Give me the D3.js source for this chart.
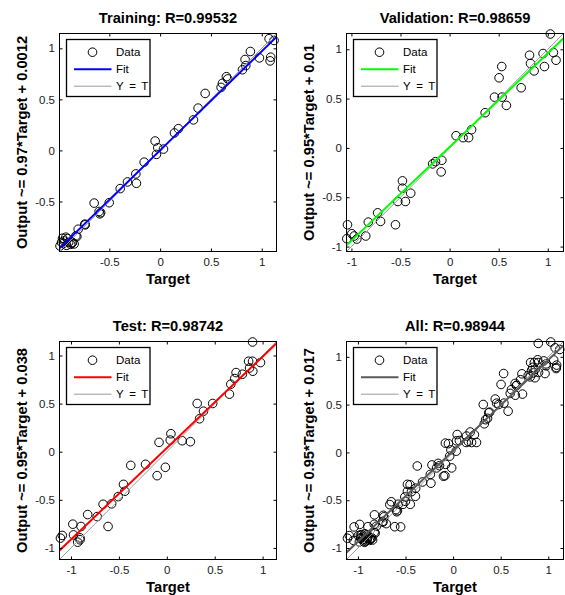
<!DOCTYPE html>
<html><head><meta charset="utf-8">
<script src="https://cdn.jsdelivr.net/npm/d3@7/dist/d3.min.js"></script>
<style>
html,body{margin:0;padding:0;background:#fff;}
svg{display:block;}
text{font-family:"Liberation Sans",Arial,Helvetica,sans-serif;}
</style></head><body>
<svg id="chart" width="565" height="595"></svg>
<script>
// ---- data: network targets vs outputs for each subset ----
const panelNames = ["Training", "Validation", "Test", "All"];
const rValues = ["0.99532", "0.98659", "0.98742", "0.98944"];
const fitSlopes = ["0.97", "0.95", "0.95", "0.95"];
const fitIntercepts = ["0.0012", "0.01", "0.038", "0.017"];
const axisMin = [-0.99, -1.05, -1.12, -1.12];
const axisMax = [1.145, 1.16, 1.145, 1.16];
const tickValues = [
  [-0.5, 0, 0.5, 1],
  [-1, -0.5, 0, 0.5, 1],
  [-1, -0.5, 0, 0.5, 1],
  [-1, -0.5, 0, 0.5, 1]
];

// [target, output]
const trainData = [
  [1.072, 1.094], [1.121, 1.077], [0.888, 0.969], [0.836, 0.890], [0.843, 0.831],
  [0.810, 0.790], [0.977, 0.906], [1.088, 0.913], [1.082, 0.877], [0.652, 0.722],
  [0.665, 0.700], [0.613, 0.657], [0.600, 0.617], [0.443, 0.558], [0.374, 0.414],
  [0.328, 0.299], [0.180, 0.213], [0.141, 0.171], [-0.049, 0.092], [-0.023, 0.026],
  [0.033, 0.013], [-0.036, -0.039], [-0.157, -0.115], [-0.239, -0.230], [-0.233, -0.322],
  [-0.321, -0.309], [-0.393, -0.374], [-0.501, -0.512], [-0.649, -0.516], [-0.600, -0.598],
  [-0.593, -0.621], [-0.741, -0.722], [-0.806, -0.772], [-0.829, -0.837], [-0.846, -0.916],
  [-0.911, -0.864], [-0.960, -0.860], [-0.944, -0.887], [-0.985, -0.936], [-0.862, -0.900],
  [-0.927, -0.850], [-0.868, -0.909], [-0.819, -0.844], [-0.950, -0.910], [-0.920, -0.930],
  [-0.900, -0.900], [-0.880, -0.920], [-0.970, -0.900], [-0.737, -0.729], [-0.585, -0.610]
];
const valData = [
  [1.026, 1.155], [1.057, 0.967], [1.084, 0.889], [0.952, 0.957], [0.966, 0.825],
  [0.814, 0.940], [0.824, 0.856], [0.861, 0.781], [0.729, 0.610], [0.531, 0.825],
  [0.504, 0.711], [0.457, 0.515], [0.534, 0.515], [0.578, 0.431], [0.362, 0.357],
  [0.224, 0.185], [0.194, 0.104], [0.137, 0.104], [0.066, 0.124], [-0.173, -0.162],
  [-0.143, -0.139], [-0.079, -0.125], [-0.086, -0.243], [-0.396, -0.459], [-0.480, -0.334],
  [-0.480, -0.408], [-0.450, -0.543], [-0.527, -0.543], [-0.551, -0.779], [-0.703, -0.745],
  [-0.733, -0.658], [-0.828, -0.752], [-0.854, -0.893], [-1.040, -0.779], [-1.047, -0.920],
  [-0.996, -0.870], [-0.972, -0.893], [-0.945, -0.924]
];
const testData = [
  [0.895, 1.140], [0.854, 0.940], [0.895, 0.940], [0.864, 0.870], [0.898, 0.836],
  [0.978, 0.926], [0.723, 0.822], [0.789, 0.805], [0.709, 0.760], [0.668, 0.701],
  [0.654, 0.598], [0.479, 0.501], [0.317, 0.501], [0.383, 0.421], [0.342, 0.342],
  [0.246, 0.104], [0.160, 0.114], [0.043, 0.187], [0.036, 0.121], [-0.081, 0.097],
  [-0.015, -0.162], [-0.101, -0.249], [-0.222, -0.131], [-0.376, -0.142], [-0.452, -0.339],
  [-0.438, -0.411], [-0.507, -0.466], [-0.576, -0.542], [-0.665, -0.546], [-0.727, -0.674],
  [-0.826, -0.653], [-0.613, -0.777], [-0.895, -0.777], [-0.981, -0.753], [-0.974, -0.864],
  [-0.930, -0.940], [-0.906, -0.895], [-0.906, -0.915], [-1.091, -0.870], [-1.110, -0.898]
];
const allData = trainData.concat(valData, testData);
const panelData = [trainData, valData, testData, allData];

// ---- appearance ----
const fitColors = ["#0000ff", "#00ff00", "#ff0000", "#5a5a5a"];
const identityColor = "#9a9a9a";
const boxes = [
  {x: 59.5, y: 33.5}, {x: 346.5, y: 33.5},
  {x: 59.5, y: 341.5}, {x: 346.5, y: 341.5}
];
const W = 217, H = 218;
const fontLabel = "bold 14.7px 'Liberation Sans', Arial, sans-serif";

const svg = d3.select("#chart");
svg.append("rect").attr("width", 565).attr("height", 595).attr("fill", "#fff");

panelNames.forEach((name, i) => {
  const b = boxes[i];
  const lo = axisMin[i], hi = axisMax[i];
  const x = d3.scaleLinear().domain([lo, hi]).range([0, W]);
  const y = d3.scaleLinear().domain([lo, hi]).range([H, 0]);
  const g = svg.append("g").attr("transform", `translate(${b.x},${b.y})`);

  const clipId = "clip" + i;
  g.append("clipPath").attr("id", clipId)
    .append("rect").attr("width", W).attr("height", H);

  // data circles
  g.append("g").selectAll("circle").data(panelData[i]).join("circle")
    .attr("cx", d => x(d[0])).attr("cy", d => y(d[1]))
    .attr("r", 4.3).attr("fill", "none").attr("stroke", "#000").attr("stroke-width", 1);

  const lines = g.append("g").attr("clip-path", `url(#${clipId})`);
  // Y = T
  lines.append("line")
    .attr("x1", x(lo)).attr("y1", y(lo)).attr("x2", x(hi)).attr("y2", y(hi))
    .attr("stroke", identityColor).attr("stroke-width", 1);
  // linear fit
  const m = +fitSlopes[i], c = +fitIntercepts[i];
  lines.append("line")
    .attr("x1", x(lo)).attr("y1", y(m * lo + c)).attr("x2", x(hi)).attr("y2", y(m * hi + c))
    .attr("stroke", fitColors[i]).attr("stroke-width", 2);

  // axes with inward ticks on all four sides (plain hyphen minus in labels)
  const ticks = tickValues[i];
  const fmt = d => String(d);
  const ax = [
    g.append("g").attr("transform", `translate(0,${H})`).call(d3.axisBottom(x).tickValues(ticks).tickSize(-3).tickPadding(6).tickFormat(fmt)),
    g.append("g").call(d3.axisLeft(y).tickValues(ticks).tickSize(-3).tickPadding(4.5).tickFormat(fmt)),
    g.append("g").call(d3.axisTop(x).tickValues(ticks).tickSize(-3).tickFormat("")),
    g.append("g").attr("transform", `translate(${W},0)`).call(d3.axisRight(y).tickValues(ticks).tickSize(-3).tickFormat(""))
  ];
  ax.forEach(a => {
    a.select(".domain").remove();
    a.selectAll("line").attr("stroke", "#000");
    a.selectAll("text").attr("fill", "#1a1a1a").style("font-size", "11.5px")
      .style("font-family", "'Liberation Sans', Arial, sans-serif");
  });
  g.append("rect").attr("width", W).attr("height", H)
    .attr("fill", "none").attr("stroke", "#000").attr("stroke-width", 1);

  // title and axis labels
  g.append("text").attr("x", W / 2).attr("y", -11).attr("text-anchor", "middle")
    .style("font", fontLabel).attr("fill", "#000")
    .text(`${name}: R=${rValues[i]}`);
  g.append("text").attr("x", W / 2).attr("y", H + 32).attr("text-anchor", "middle")
    .style("font", fontLabel).attr("fill", "#000").text("Target");
  g.append("text")
    .attr("transform", `translate(-33,${H / 2}) rotate(-90)`)
    .attr("text-anchor", "middle")
    .style("font", fontLabel).attr("fill", "#000")
    .text(`Output ~= ${fitSlopes[i]}*Target + ${fitIntercepts[i]}`);

  // legend
  const lg = g.append("g").attr("transform", "translate(7,6)");
  lg.append("rect").attr("width", 83.5).attr("height", 57)
    .attr("fill", "#fff").attr("stroke", "#000").attr("stroke-width", 1.3);
  const rows = [12.7, 29.7, 46.7];
  lg.append("circle").attr("cx", 26).attr("cy", rows[0]).attr("r", 4.3)
    .attr("fill", "none").attr("stroke", "#000");
  lg.append("line").attr("x1", 7.5).attr("x2", 45).attr("y1", rows[1]).attr("y2", rows[1])
    .attr("stroke", fitColors[i]).attr("stroke-width", 2);
  lg.append("line").attr("x1", 7.5).attr("x2", 45).attr("y1", rows[2]).attr("y2", rows[2])
    .attr("stroke", identityColor).attr("stroke-width", 1);
  ["Data", "Fit", "Y = T"].forEach((t, k) => {
    lg.append("text").attr("x", 49.5).attr("y", rows[k]).attr("dy", "0.36em")
      .style("font-size", "11.5px").style("word-spacing", "2.5px")
      .attr("fill", "#000").text(t);
  });
});
</script>
</body></html>
